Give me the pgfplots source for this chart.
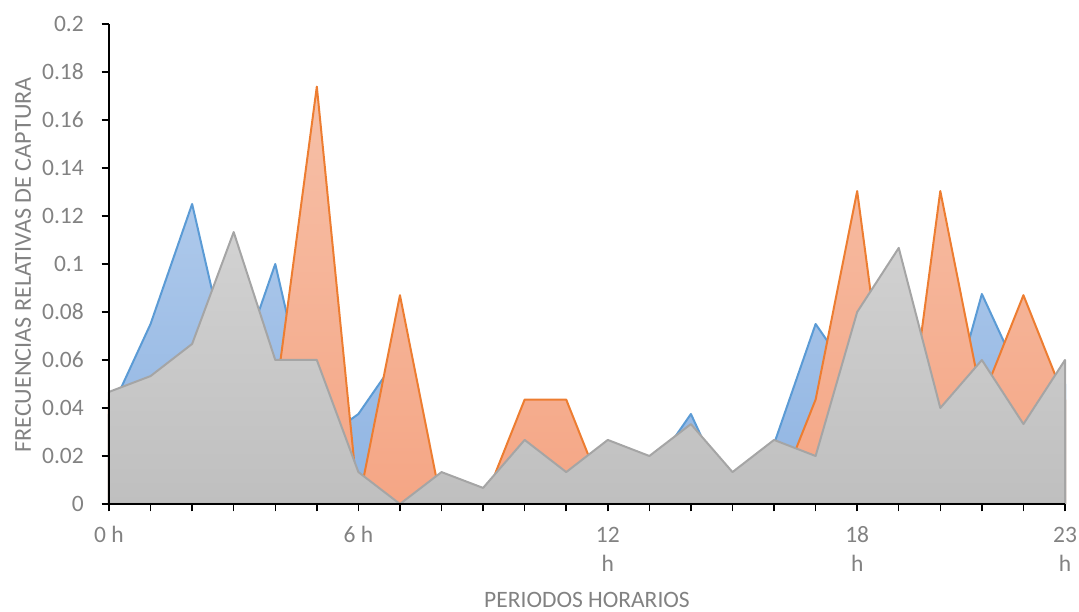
\documentclass[border=0pt]{standalone}
\usepackage{fontspec}
\setmainfont{Carlito}
\usepackage{pgfplots}
\usepackage{pgfplotstable}
\pgfplotsset{compat=1.18}

\definecolor{serA}{RGB}{91,155,213}
\definecolor{serAtop}{RGB}{174,201,235}
\definecolor{serAbot}{RGB}{143,180,226}
\definecolor{serB}{RGB}{237,125,49}
\definecolor{serBtop}{RGB}{246,192,168}
\definecolor{serBbot}{RGB}{245,166,133}
\definecolor{serC}{RGB}{165,165,165}
\definecolor{serCtop}{RGB}{210,210,210}
\definecolor{serCbot}{RGB}{191,191,191}
\definecolor{txt}{RGB}{130,130,130}

\newcommand\lbl{\fontsize{23.5}{29}\selectfont}

% relative capture frequency per hour, three series
\pgfplotstableread{
h  a       b       c
0  0.0375  0.0435  0.0467
1  0.075   0       0.0533
2  0.125   0.0435  0.0667
3  0.05    0.0435  0.1133
4  0.1     0.0435  0.06
5  0.025   0.1739  0.06
6  0.0375  0       0.0133
7  0.0625  0.087   0
8  0       0       0.0133
9  0       0       0.0067
10 0.0125  0.0435  0.0267
11 0.0125  0.0435  0.0133
12 0.025   0       0.0267
13 0.0125  0       0.02
14 0.0375  0       0.0333
15 0       0       0.0133
16 0.025   0       0.0267
17 0.075   0.0435  0.02
18 0.05    0.1304  0.08
19 0.05    0       0.1067
20 0.025   0.1304  0.04
21 0.0875  0.0435  0.06
22 0.05    0.087   0.0333
23 0.05    0.0435  0.06
}\capturas

\begin{document}
\begin{tikzpicture}
\begin{axis}[
  scale only axis, width=956pt, height=480pt,
  xmin=0, xmax=23, ymin=0, ymax=0.2,
  axis x line*=bottom, axis y line*=left,
  axis line style={black, line width=1.5pt, -},
  axis on top, clip=false,
  tick align=outside, major tick length=7.5pt,
  tick style={black, line width=1.5pt},
  xtick={0,...,23},
  xticklabels={\strut 0 h,,,,,,\strut 6 h,,,,,,{\strut 12\\h},,,,,,{\strut 18\\h},,,,,{\strut 23\\h}},
  xticklabel style={align=center, anchor=north, inner sep=0pt, yshift=-11pt, font=\lbl, text=txt},
  ytick={0,0.02,0.04,0.06,0.08,0.1,0.12,0.14,0.16,0.18,0.2},
  yticklabels={0,0.02,0.04,0.06,0.08,0.1,0.12,0.14,0.16,0.18,0.2},
  yticklabel style={anchor=east, inner sep=0pt, xshift=-17.5pt, font=\lbl, text=txt},
  xlabel={PERIODOS HORARIOS},
  ylabel={FRECUENCIAS RELATIVAS DE CAPTURA},
  every axis x label/.style={at={(axis description cs:0.5,0)}, anchor=base, yshift=-104pt, font=\lbl, text=txt},
  every axis y label/.style={at={(axis description cs:0,0.5)}, xshift=-86pt, yshift=-1pt, rotate=90, anchor=center, font=\fontsize{24.2}{29}\selectfont, text=txt},
]
\addplot[draw=serA, line width=2pt, line join=round, top color=serAtop, bottom color=serAbot]
  table[x=h, y=a] {\capturas} \closedcycle;
\addplot[draw=serB, line width=2pt, line join=round, top color=serBtop, bottom color=serBbot]
  table[x=h, y=b] {\capturas} \closedcycle;
\addplot[draw=serC, line width=2pt, line join=round, top color=serCtop, bottom color=serCbot]
  table[x=h, y=c] {\capturas} \closedcycle;
\end{axis}
\pgfresetboundingbox
\path[use as bounding box] (-109pt,-108pt) rectangle (970pt,504pt);
\end{tikzpicture}
\end{document}
